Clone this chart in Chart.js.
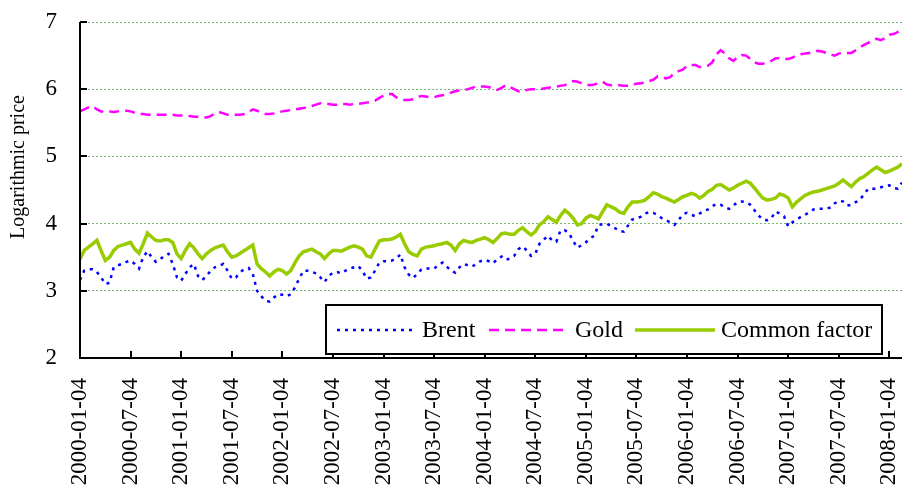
<!DOCTYPE html>
<html lang="en">
<head>
  <meta charset="UTF-8" />
  <title>Brent, Gold and Common factor</title>
  <script src="https://cdn.jsdelivr.net/npm/chart.js"></script>
  <style>
    body { margin: 0; background: #fff; }
    #chart { display: block; }
  </style>
</head>
<body>
  <canvas id="chart" width="902" height="491"></canvas>

  <script>
    // semi-monthly readings, 2000-01-04 .. 2008-03-19
    const brent = [
      3.16, 3.30, 3.32, 3.32, 3.28, 3.20, 3.10, 3.12, 3.35, 3.38, 3.40, 3.43,
      3.45, 3.40, 3.33, 3.50, 3.59, 3.50, 3.43, 3.47, 3.52, 3.55, 3.40, 3.20,
      3.15, 3.25, 3.35, 3.40, 3.22, 3.16, 3.22, 3.30, 3.35, 3.37, 3.40, 3.30,
      3.18, 3.20, 3.28, 3.32, 3.34, 3.25, 3.00, 2.92, 2.85, 2.84, 2.90, 2.95,
      2.94, 2.92, 2.95, 3.05, 3.18, 3.30, 3.30, 3.28, 3.26, 3.20, 3.13, 3.22,
      3.27, 3.28, 3.26, 3.30, 3.33, 3.35, 3.37, 3.30, 3.18, 3.20, 3.30, 3.42,
      3.44, 3.44, 3.45, 3.48, 3.54, 3.35, 3.24, 3.19, 3.25, 3.32, 3.33, 3.33,
      3.33, 3.38, 3.42, 3.36, 3.30, 3.27, 3.35, 3.40, 3.38, 3.36, 3.40, 3.44,
      3.46, 3.44, 3.41, 3.47, 3.51, 3.46, 3.48, 3.52, 3.62, 3.66, 3.60, 3.52,
      3.55, 3.70, 3.76, 3.82, 3.75, 3.73, 3.90, 3.90, 3.86, 3.74, 3.64, 3.68,
      3.72, 3.78, 3.82, 3.98, 3.99, 4.00, 3.96, 3.93, 3.89, 3.88, 3.97, 4.06,
      4.08, 4.10, 4.15, 4.17, 4.16, 4.13, 4.08, 4.05, 4.02, 3.98, 4.05, 4.14,
      4.16, 4.13, 4.11, 4.15, 4.19, 4.21, 4.26, 4.29, 4.28, 4.24, 4.22, 4.27,
      4.32, 4.33, 4.32, 4.28, 4.20, 4.12, 4.06, 4.05, 4.08, 4.18, 4.15, 4.11,
      3.96, 4.02, 4.06, 4.10, 4.13, 4.17, 4.21, 4.22, 4.22, 4.22, 4.24, 4.30,
      4.34, 4.33, 4.27, 4.28, 4.32, 4.35, 4.44, 4.52, 4.52, 4.52, 4.54, 4.56,
      4.57, 4.53, 4.52, 4.61
    ];

    const gold = [
      5.67, 5.70, 5.73, 5.75, 5.70, 5.67, 5.67, 5.67, 5.66, 5.67, 5.68, 5.68,
      5.67, 5.65, 5.63, 5.63, 5.62, 5.62, 5.62, 5.62, 5.62, 5.62, 5.62, 5.61,
      5.61, 5.61, 5.60, 5.59, 5.59, 5.58, 5.58, 5.60, 5.64, 5.66, 5.64, 5.62,
      5.62, 5.62, 5.62, 5.63, 5.66, 5.70, 5.68, 5.65, 5.63, 5.63, 5.64, 5.66,
      5.67, 5.68, 5.69, 5.70, 5.71, 5.72, 5.73, 5.75, 5.77, 5.79, 5.79, 5.78,
      5.77, 5.77, 5.78, 5.78, 5.77, 5.78, 5.78, 5.79, 5.80, 5.81, 5.83, 5.87,
      5.90, 5.93, 5.93, 5.88, 5.85, 5.84, 5.84, 5.85, 5.88, 5.90, 5.89, 5.88,
      5.88, 5.90, 5.91, 5.92, 5.95, 5.97, 5.98, 5.99, 6.00, 6.02, 6.04, 6.04,
      6.04, 6.03, 6.02, 5.99, 6.02, 6.06, 6.03, 6.00, 5.97, 5.96, 5.99, 6.00,
      6.00, 6.00, 6.01, 6.02, 6.03, 6.04, 6.05, 6.06, 6.09, 6.12, 6.11, 6.09,
      6.07, 6.06, 6.07, 6.09, 6.11, 6.07, 6.06, 6.06, 6.06, 6.05, 6.05, 6.07,
      6.08, 6.09, 6.10, 6.12, 6.14, 6.19, 6.18, 6.16, 6.18, 6.24, 6.27, 6.29,
      6.35, 6.36, 6.36, 6.33, 6.34, 6.35, 6.40, 6.52, 6.58, 6.53, 6.46, 6.42,
      6.48, 6.51, 6.50, 6.45, 6.40, 6.38, 6.38, 6.39, 6.42, 6.46, 6.46, 6.45,
      6.45, 6.47, 6.50, 6.52, 6.53, 6.54, 6.55, 6.57, 6.56, 6.54, 6.52, 6.50,
      6.53, 6.54, 6.54, 6.54, 6.58, 6.62, 6.66, 6.69, 6.73, 6.75, 6.73, 6.76,
      6.81, 6.82, 6.85, 6.91
    ];

    const commonFactor = [
      3.47, 3.60, 3.65, 3.70, 3.75, 3.60, 3.45, 3.50, 3.60, 3.66, 3.68, 3.70,
      3.72, 3.62, 3.56, 3.70, 3.86, 3.80, 3.75, 3.74, 3.76, 3.76, 3.72, 3.55,
      3.48, 3.60, 3.70, 3.64, 3.55, 3.48, 3.55, 3.60, 3.64, 3.66, 3.68, 3.58,
      3.50, 3.52, 3.56, 3.60, 3.64, 3.68, 3.40, 3.33, 3.28, 3.22, 3.28, 3.32,
      3.30, 3.25, 3.30, 3.42, 3.52, 3.58, 3.60, 3.62, 3.58, 3.55, 3.48, 3.55,
      3.60, 3.60, 3.59, 3.62, 3.65, 3.67, 3.65, 3.62, 3.52, 3.50, 3.62, 3.74,
      3.76, 3.76, 3.77, 3.80, 3.84, 3.70, 3.58, 3.54, 3.52, 3.62, 3.65, 3.66,
      3.67, 3.69, 3.70, 3.72, 3.68, 3.60, 3.70, 3.75, 3.73, 3.72, 3.75, 3.77,
      3.79, 3.76, 3.72, 3.78, 3.85, 3.86, 3.84, 3.84, 3.90, 3.94, 3.88, 3.83,
      3.88, 3.98, 4.03, 4.10, 4.06, 4.02, 4.12, 4.20, 4.15, 4.08, 3.98, 4.00,
      4.08, 4.12, 4.10, 4.07, 4.18, 4.28, 4.25, 4.22, 4.17, 4.15, 4.25, 4.32,
      4.32, 4.33, 4.35, 4.40, 4.46, 4.44, 4.40, 4.38, 4.35, 4.32, 4.36, 4.40,
      4.42, 4.45, 4.43, 4.38, 4.42, 4.48, 4.51, 4.57, 4.58, 4.54, 4.50, 4.53,
      4.57, 4.60, 4.63, 4.60, 4.53, 4.45, 4.38, 4.35, 4.36, 4.38, 4.44, 4.42,
      4.38, 4.25, 4.32, 4.37, 4.42, 4.45, 4.47, 4.48, 4.50, 4.52, 4.54, 4.56,
      4.60, 4.65, 4.60, 4.55, 4.62, 4.67, 4.70, 4.75, 4.80, 4.84, 4.80, 4.76,
      4.78, 4.81, 4.84, 4.89
    ];

    const tickLabels = [
      '2000-01-04', '2000-07-04', '2001-01-04', '2001-07-04', '2002-01-04',
      '2002-07-04', '2003-01-04', '2003-07-04', '2004-01-04', '2004-07-04',
      '2005-01-04', '2005-07-04', '2006-01-04', '2006-07-04', '2007-01-04',
      '2007-07-04', '2008-01-04'
    ];

    // two dates per month: the 4th and the 19th
    const categories = [];
    for (let i = 0; i < brent.length; i++) {
      const m = Math.floor(i / 2);
      const yr = 2000 + Math.floor(m / 12);
      const mo = String(m % 12 + 1).padStart(2, '0');
      categories.push(`${yr}-${mo}-${i % 2 ? '19' : '04'}`);
    }

    const serif = '"Liberation Serif", "Times New Roman", serif';

    // axis lines, inner tick marks, axis title and the boxed legend
    const decorations = {
      id: 'decorations',
      afterDraw(chart) {
        const ctx = chart.ctx;
        const xs = chart.scales.x;
        const ys = chart.scales.y;
        const left = Math.round(chart.chartArea.left);
        const right = Math.round(chart.chartArea.right);
        const top = Math.round(chart.chartArea.top);
        const bottom = Math.round(chart.chartArea.bottom);

        ctx.save();
        ctx.fillStyle = '#000';
        ctx.fillRect(left - 1, top, 2, bottom - top + 1);
        ctx.fillRect(left - 1, bottom - 1, right - left + 1, 2);
        xs.ticks.forEach((t, i) => {
          if (tickLabels.includes(categories[t.value])) {
            const px = Math.round(xs.getPixelForTick(i));
            ctx.fillRect(px - 1, bottom - 7, 2, 7);
          }
        });
        ys.ticks.forEach((t, i) => {
          const py = Math.round(ys.getPixelForTick(i));
          ctx.fillRect(left, py - 1, 7, 2);
        });

        // y axis title
        ctx.font = `20px ${serif}`;
        ctx.translate(19, 167);
        ctx.rotate(-Math.PI / 2);
        ctx.textAlign = 'center';
        ctx.textBaseline = 'middle';
        ctx.fillText('Logarithmic price', 0, 0);
        ctx.restore();

        // legend
        ctx.save();
        ctx.fillStyle = '#fff';
        ctx.fillRect(326, 305, 556, 49);
        ctx.strokeStyle = '#000';
        ctx.lineWidth = 2;
        ctx.strokeRect(326, 305, 556, 49);
        const items = [
          { x0: 337, x1: 413, tx: 422 },
          { x0: 489, x1: 568, tx: 575 },
          { x0: 635, x1: 715, tx: 721 }
        ];
        ctx.font = `24px ${serif}`;
        ctx.textBaseline = 'middle';
        ctx.textAlign = 'left';
        chart.data.datasets.forEach((ds, i) => {
          const it = items[i];
          ctx.beginPath();
          ctx.strokeStyle = ds.borderColor;
          ctx.lineWidth = ds.borderWidth;
          ctx.setLineDash(ds.borderDash || []);
          ctx.moveTo(it.x0, 330);
          ctx.lineTo(it.x1, 330);
          ctx.stroke();
          ctx.setLineDash([]);
          ctx.fillStyle = '#000';
          ctx.fillText(ds.label, it.tx, 331);
        });
        ctx.restore();
      }
    };

    new Chart(document.getElementById('chart'), {
      type: 'line',
      data: {
        labels: categories,
        datasets: [
          { label: 'Brent', data: brent, borderColor: '#0000ff', borderWidth: 2.5, borderDash: [3, 5] },
          { label: 'Gold', data: gold, borderColor: '#ff00ff', borderWidth: 2.5, borderDash: [10, 6] },
          { label: 'Common factor', data: commonFactor, borderColor: '#99cc00', borderWidth: 3.5 }
        ]
      },
      options: {
        responsive: false,
        animation: false,
        events: [],
        layout: { padding: { top: 22, right: 0, left: 0, bottom: 0 } },
        elements: {
          point: { radius: 0 },
          line: { tension: 0, borderCapStyle: 'butt' }
        },
        plugins: {
          legend: { display: false },
          tooltip: { enabled: false }
        },
        scales: {
          x: {
            type: 'category',
            offset: false,
            grid: { display: false, drawTicks: false },
            border: { display: false },
            ticks: {
              autoSkip: false,
              maxRotation: 90,
              minRotation: 90,
              padding: 20,
              color: '#000',
              font: { family: serif, size: 23 },
              callback(value) {
                const lab = categories[value];
                return tickLabels.includes(lab) ? lab : '';
              }
            },
            afterFit(s) {
              s.height = 133;
              s.paddingLeft = 0;
              s.paddingRight = 0;
            }
          },
          y: {
            min: 2,
            max: 7,
            grid: { color: 'rgba(0,128,0,0.55)', lineWidth: 1, drawTicks: false },
            border: { display: false, dash: [2, 2] },
            ticks: {
              stepSize: 1,
              padding: 23,
              color: '#000',
              font: { family: serif, size: 23 }
            },
            afterFit(s) {
              s.width = 80;
              s.paddingTop = 0;
              s.paddingBottom = 0;
            }
          }
        }
      },
      plugins: [decorations]
    });
  </script>
</body>
</html>
